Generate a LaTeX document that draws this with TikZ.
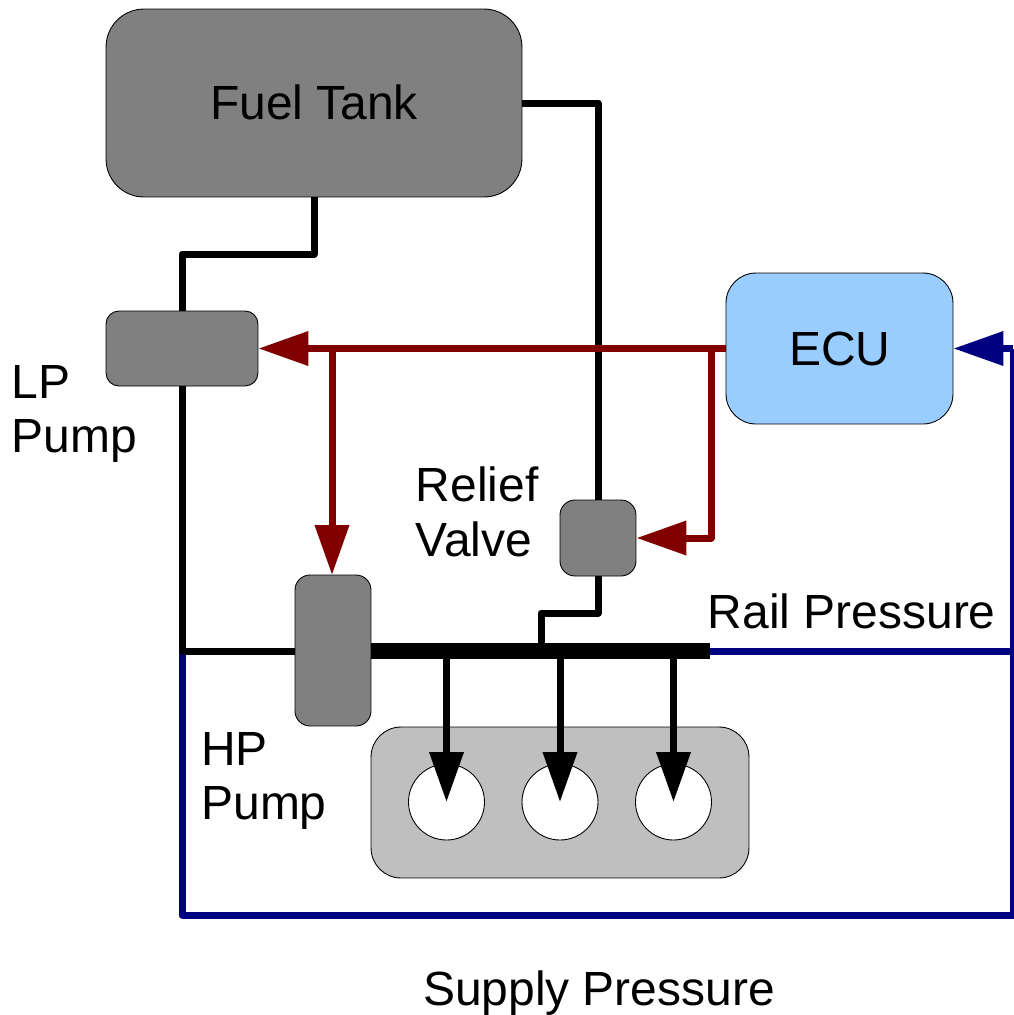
\documentclass[tikz,border=0pt]{standalone}
\usepackage{fontspec}
\setmainfont{Liberation Sans}
\usetikzlibrary{arrows.meta}
\definecolor{darkred}{HTML}{800000}
\definecolor{navy}{HTML}{000080}
\definecolor{ecublue}{HTML}{99CCFF}
\begin{document}
\begin{tikzpicture}[x=0.02cm, y=-0.02cm,
  box/.style={draw=black, line width=0.5pt, inner sep=0pt, fill=#1},
  box/.default={gray!100!white},
  lbl/.style={align=left, inner sep=0pt, font=\fontsize{27.3}{31}\selectfont},
  fuel/.style={line width=0.14cm, line join=round},
  rail/.style={line width=0.31cm},
  ctrl/.style={line width=0.14cm, line join=round, color=darkred, -{Triangle[length=1cm, width=0.66cm]}},
  sense/.style={line width=0.14cm, line join=round, color=navy},
  inject/.style={fuel, -{Triangle[length=1cm, width=0.66cm]}}]
\useasboundingbox (0,0) rectangle (1014,1015);
% boxes
\node[box, rounded corners=0.76cm, minimum width=8.32cm, minimum height=3.76cm] (tank) at (314,103) {};
\node[box, rounded corners=0.26cm, minimum width=3.04cm, minimum height=1.5cm] (lp) at (182,348.5) {};
\node[box=ecublue, rounded corners=0.6cm, minimum width=4.54cm, minimum height=3.02cm] (ecu) at (839.5,348.5) {};
\node[box, rounded corners=0.3cm, minimum width=1.52cm, minimum height=1.52cm] (relief) at (598,538) {};
\node[box, rounded corners=0.3cm, minimum width=1.52cm, minimum height=3.02cm] (hp) at (333,650.5) {};
\node[box=gray!50!white, rounded corners=0.6cm, minimum width=7.56cm, minimum height=3.02cm] (engine) at (560,802.5) {};
% cylinders
\node[box=white, circle, minimum size=1.52cm] (cyl1) at (446.5,802) {};
\node[box=white, circle, minimum size=1.52cm] (cyl2) at (560,802) {};
\node[box=white, circle, minimum size=1.52cm] (cyl3) at (673.5,802) {};
% labels
\node[lbl] (tanklbl) at (314,102) {Fuel Tank};
\node[lbl] (eculbl) at (840,349) {ECU};
\node[lbl, anchor=west] (lplbl) at (11.5,414) {LP\\Pump};
\node[lbl, anchor=west] (relieflbl) at (415.5,512) {Relief\\Valve};
\node[lbl, anchor=west] (hplbl) at (201,781) {HP\\Pump};
\node[lbl, anchor=west] (raillbl) at (707.5,611) {Rail Pressure};
\node[lbl] (supplylbl) at (599,993) {Supply Pressure};
% rail points
\coordinate (railend) at (710,651);
\coordinate (railleft) at (182,651);
\coordinate (railright) at (1013,651);
% pressure feedback
\draw[sense] (railleft) -- (182,915) -- (1013,915) -- (1013,348.5);
\draw[sense, -{Triangle[length=1cm, width=0.66cm]}] (1013,348.5) -- (ecu.east);
\draw[sense] (railend) -- (railright);
% fuel lines
\draw[fuel] (tank.south) |- (182,254) -- (lp.north);
\draw[fuel] (lp.south) -- (railleft) -- (hp.west |- railleft);
\draw[fuel] (tank.east) -| (relief.north);
\draw[fuel] (relief.south) |- (541,613) -- (541,651);
\draw[rail] (hp.east |- railend) -- (railend);
\draw[inject] (cyl1.center |- railend) -- (cyl1.center);
\draw[inject] (cyl2.center |- railend) -- (cyl2.center);
\draw[inject] (cyl3.center |- railend) -- (cyl3.center);
% control lines
\draw[ctrl] (ecu.west) -- (lp.east);
\draw[ctrl] (332,348.5) -- (332,575);
\draw[ctrl] (711,348.5) |- (relief.east);
\end{tikzpicture}
\end{document}
